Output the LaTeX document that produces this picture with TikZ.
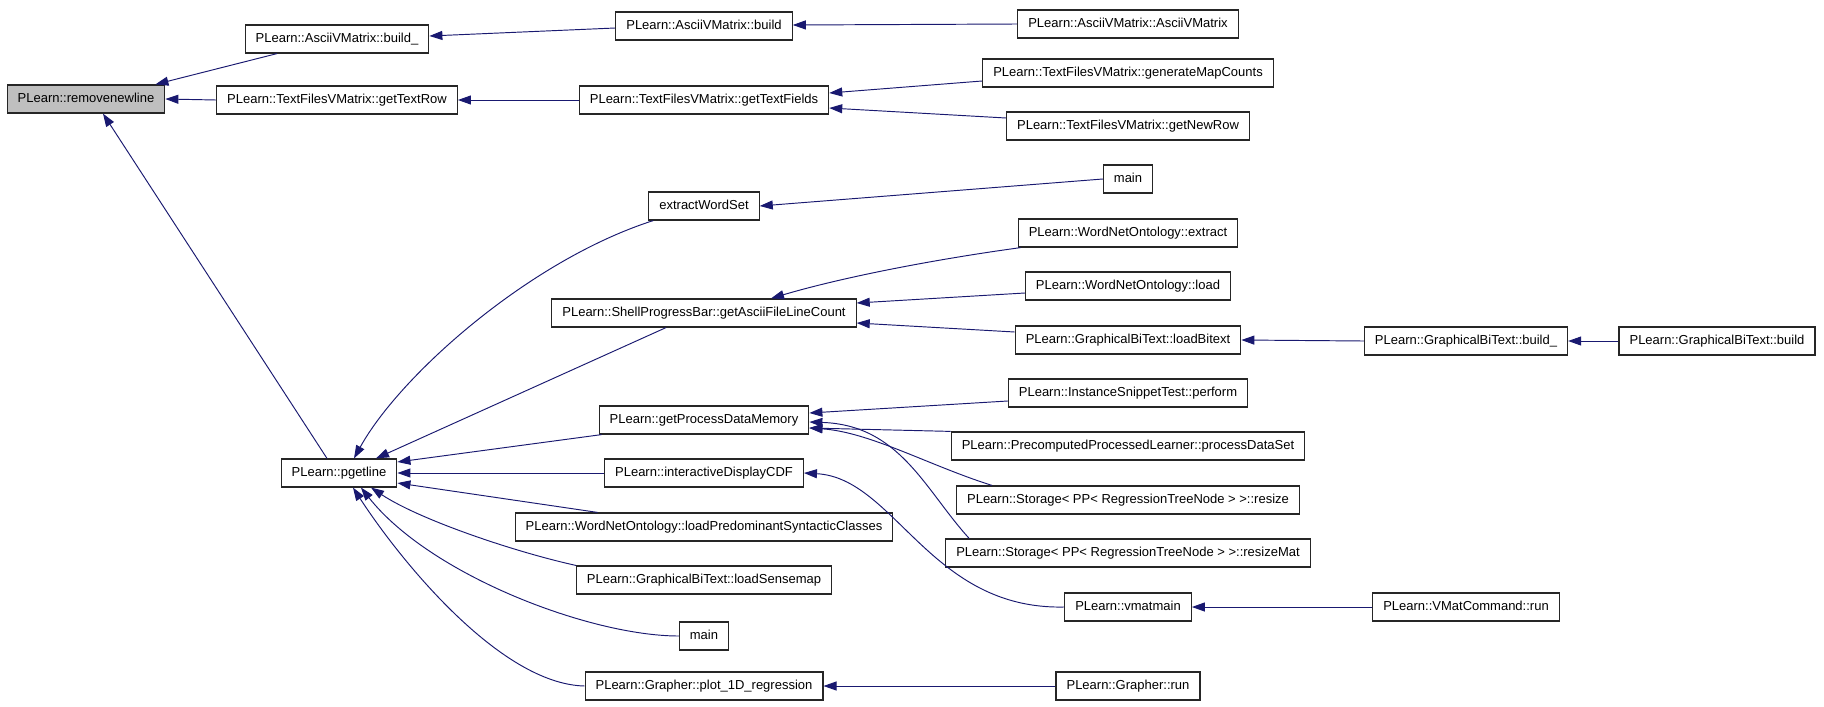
\documentclass[tikz,border=0pt]{standalone}
\usepackage{fontspec}
\setmainfont{Liberation Sans}
\usetikzlibrary{arrows.meta,calc}
\definecolor{edgeblue}{HTML}{191970}
\definecolor{boxgray}{HTML}{BFBFBF}
\begin{document}
\begin{tikzpicture}[x=1pt,y=-1pt,
  box/.style={draw=black!85, line width=1.2pt, fill=white, inner xsep=10.5pt, inner ysep=0pt,
    minimum height=28pt, text height=9.6pt, text depth=2.8pt, font=\fontsize{13}{15}\selectfont},
  edge/.style={draw=edgeblue, line width=0.95pt, -{Triangle[length=13pt,width=9pt]}}]
\fill[white] (0,0) rectangle (1824,707);
\useasboundingbox (0,0) rectangle (1824,707);

% rank 0
\node[box, fill=boxgray] (rnl) at (86,99) {PLearn::removenewline};
% rank 1
\node[box] (bu)  at (337,39)  {PLearn::AsciiVMatrix::build\_};
\node[box] (gtr) at (337,100) {PLearn::TextFilesVMatrix::getTextRow};
\node[box] (pg)  at (339,473) {PLearn::pgetline};
% rank 2
\node[box] (b)     at (704,26)  {PLearn::AsciiVMatrix::build};
\node[box] (gtf)   at (704,100) {PLearn::TextFilesVMatrix::getTextFields};
\node[box] (ews)   at (704,206) {extractWordSet};
\node[box] (spb)   at (704,313) {PLearn::ShellProgressBar::getAsciiFileLineCount};
\node[box] (gpdm)  at (704,420) {PLearn::getProcessDataMemory};
\node[box] (idcdf) at (704,473) {PLearn::interactiveDisplayCDF};
\node[box] (lpsc)  at (704,527) {PLearn::WordNetOntology::loadPredominantSyntacticClasses};
\node[box] (lsm)   at (704,580) {PLearn::GraphicalBiText::loadSensemap};
\node[box] (mainB) at (704,636) {main};
\node[box] (plot)  at (704,686) {PLearn::Grapher::plot\_1D\_regression};
% rank 3
\node[box] (avm)   at (1128,24)  {PLearn::AsciiVMatrix::AsciiVMatrix};
\node[box] (gmc)   at (1128,73)  {PLearn::TextFilesVMatrix::generateMapCounts};
\node[box] (gnr)   at (1128,126) {PLearn::TextFilesVMatrix::getNewRow};
\node[box] (mainA) at (1128,179) {main};
\node[box] (wext)  at (1128,233) {PLearn::WordNetOntology::extract};
\node[box] (wload) at (1128,286) {PLearn::WordNetOntology::load};
\node[box] (lbt)   at (1128,340) {PLearn::GraphicalBiText::loadBitext};
\node[box] (perf)  at (1128,393) {PLearn::InstanceSnippetTest::perform};
\node[box] (pds)   at (1128,446) {PLearn::PrecomputedProcessedLearner::processDataSet};
\node[box] (rsz)   at (1128,500) {PLearn::Storage< PP< RegressionTreeNode > >::resize};
\node[box] (rszm)  at (1128,553) {PLearn::Storage< PP< RegressionTreeNode > >::resizeMat};
\node[box] (vmm)   at (1128,607) {PLearn::vmatmain};
\node[box] (grun)  at (1128,686) {PLearn::Grapher::run};
% rank 4
\node[box] (gbu) at (1466,341) {PLearn::GraphicalBiText::build\_};
\node[box] (vmc) at (1466,607) {PLearn::VMatCommand::run};
% rank 5
\node[box] (gb)  at (1717,341) {PLearn::GraphicalBiText::build};

% edges
\draw[edge] ($(bu.south)+(-60,0)$) -- ($(rnl.north east)+(-10,0)$);
\draw[edge] (gtr.west) -- (rnl.east);
\draw[edge] ($(pg.north)+(-12,0)$) -- ($(rnl.south)+(17,0)$);
\draw[edge] ($(b.west)+(0,2)$) -- ($(bu.east)+(0,-3)$);
\draw[edge] (avm.west) -- ($(b.east)+(0,-1)$);
\draw[edge] (gtf.west) -- (gtr.east);
\draw[edge] ($(gmc.west)+(0,8)$) -- ($(gtf.east)+(0,-7)$);
\draw[edge] ($(gnr.west)+(0,-8)$) -- ($(gtf.east)+(0,8)$);
\draw[edge] ($(ews.south west)+(5,0)$) .. controls (530,260) and (400,375) .. ($(pg.north)+(15,0)$);
\draw[edge] (mainA.west) -- (ews.east);
\draw[edge] ($(spb.south)+(-38,0)$) -- ($(pg.north)+(37,0)$);
\draw[edge] ($(wext.south west)+(3,0)$) .. controls (930,260) and (840,278) .. ($(spb.north)+(67,0)$);
\draw[edge] ($(wload.west)+(0,7)$) -- ($(spb.east)+(0,-10)$);
\draw[edge] ($(lbt.west)+(0,-8)$) -- ($(spb.east)+(0,10)$);
\draw[edge] (gbu.west) -- (lbt.east);
\draw[edge] (gb.west) -- (gbu.east);
\draw[edge] ($(gpdm.south west)+(3,0)$) -- ($(pg.east)+(0,-11)$);
\draw[edge] ($(perf.west)+(0,8)$) -- ($(gpdm.east)+(0,-7)$);
\draw[edge] (pds.north west) -- ($(gpdm.east)+(0,8)$);
\draw[edge] ($(rsz.north west)+(36,0)$) .. controls (930,466) and (870,432) .. ($(gpdm.east)+(0,8)$);
\draw[edge] ($(rszm.north west)+(24,0)$) .. controls (925,490) and (900,425) .. ($(gpdm.east)+(0,2)$);
\draw[edge] (idcdf.west) -- (pg.east);
\draw[edge] (vmm.west) .. controls (930,610) and (895,478) .. (idcdf.east);
\draw[edge] (vmc.west) -- (vmm.east);
\draw[edge] ($(lpsc.north west)+(83,0)$) -- ($(pg.east)+(0,10)$);
\draw[edge] (lsm.north west) .. controls (515,552) and (420,520) .. ($(pg.south)+(32,0)$);
\draw[edge] (mainB.west) .. controls (590,636) and (430,575) .. ($(pg.south)+(22,0)$);
\draw[edge] (plot.west) .. controls (500,684) and (400,560) .. ($(pg.south)+(14,0)$);
\draw[edge] (grun.west) -- (plot.east);
\end{tikzpicture}
\end{document}
